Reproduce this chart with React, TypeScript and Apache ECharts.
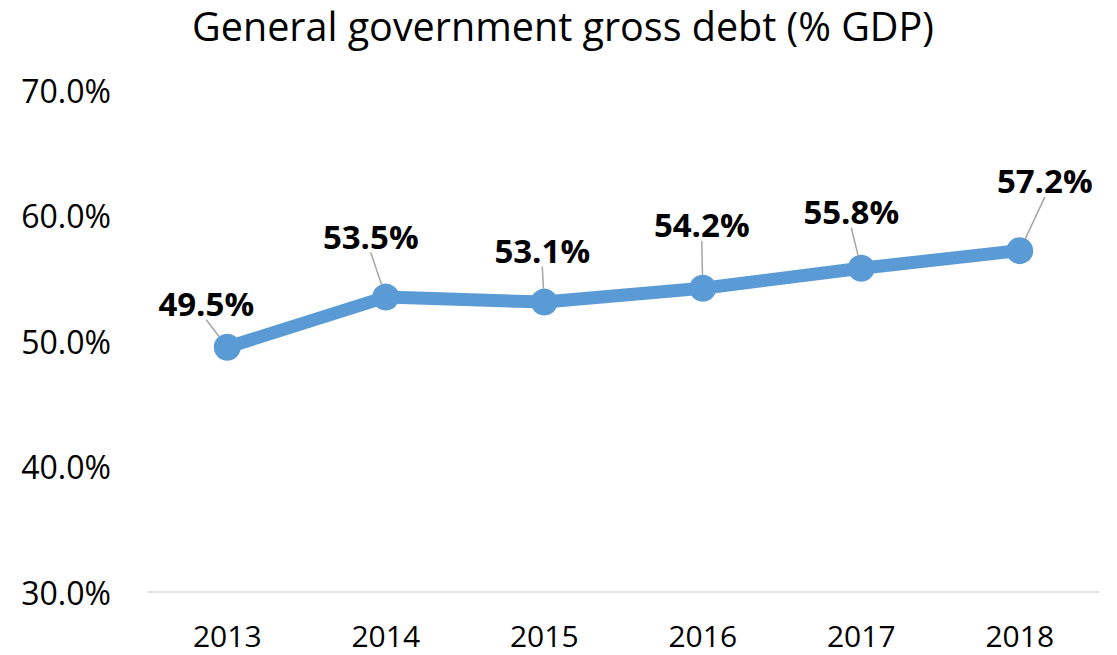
import React, { useEffect, useRef } from "react";
import * as echarts from "echarts";

const TITLE = "General government gross debt (% GDP)";
const years = ["2013", "2014", "2015", "2016", "2017", "2018"];
const debtPct = [49.5, 53.5, 53.1, 54.2, 55.8, 57.2];
const yTicks = { min: 30, max: 70, interval: 10 };
// label displacement from the point (layout, px)
const labelShift = [
  [-21, -44],
  [-15, -61],
  [-2, -52],
  [-1, -64],
  [-10, -57],
  [25, -70],
];

const FONT = "'Open Sans', 'Noto Sans', sans-serif";

export default function App() {
  const ref = useRef<HTMLDivElement>(null);
  useEffect(() => {
    if (!ref.current) return;
    const chart = echarts.init(ref.current, undefined, { renderer: "svg" });
    chart.setOption({
      animation: false,
      backgroundColor: "#ffffff",
      title: {
        text: TITLE,
        left: 558,
        textAlign: "center",
        top: 1,
        textStyle: { fontFamily: FONT, fontSize: 39.5, fontWeight: "normal", color: "#000" },
      },
      grid: { left: 148, right: 18, top: 90, bottom: 63, containLabel: false },
      xAxis: {
        type: "category",
        data: years,
        boundaryGap: true,
        axisLine: { show: true, lineStyle: { color: "#d9d9d9", width: 1.5 } },
        axisTick: { show: false },
        axisLabel: { fontFamily: FONT, fontSize: 30, lineHeight: 28, color: "#000", margin: 29 },
        splitLine: { show: false },
      },
      yAxis: {
        type: "value",
        min: yTicks.min,
        max: yTicks.max,
        interval: yTicks.interval,
        axisLine: { show: false },
        axisTick: { show: false },
        splitLine: { show: false },
        axisLabel: {
          fontFamily: FONT,
          fontSize: 32,
          color: "#000",
          margin: 37,
          formatter: (v: number) => v.toFixed(1) + "%",
        },
      },
      series: [
        {
          type: "line",
          data: debtPct,
          symbol: "circle",
          symbolSize: 27,
          lineStyle: { color: "#5b9bd5", width: 13 },
          itemStyle: { color: "#5b9bd5" },
          label: {
            show: true,
            position: "inside",
            fontFamily: FONT,
            fontSize: 33,
            fontWeight: "bold",
            color: "#000",
            formatter: (p: any) => p.value.toFixed(1) + "%",
          },
          labelLine: { show: true, lineStyle: { color: "#a6a6a6", width: 1.5 } },
          labelLayout: (p: any) => {
            const s = labelShift[p.dataIndex] || [0, -40];
            return { dx: s[0], dy: s[1] };
          },
        },
      ],
    });
    return () => chart.dispose();
  }, []);
  return (
    <div
      ref={ref}
      style={{ position: "fixed", left: 0, top: 0, width: 1117, height: 655, background: "#fff" }}
    />
  );
}
